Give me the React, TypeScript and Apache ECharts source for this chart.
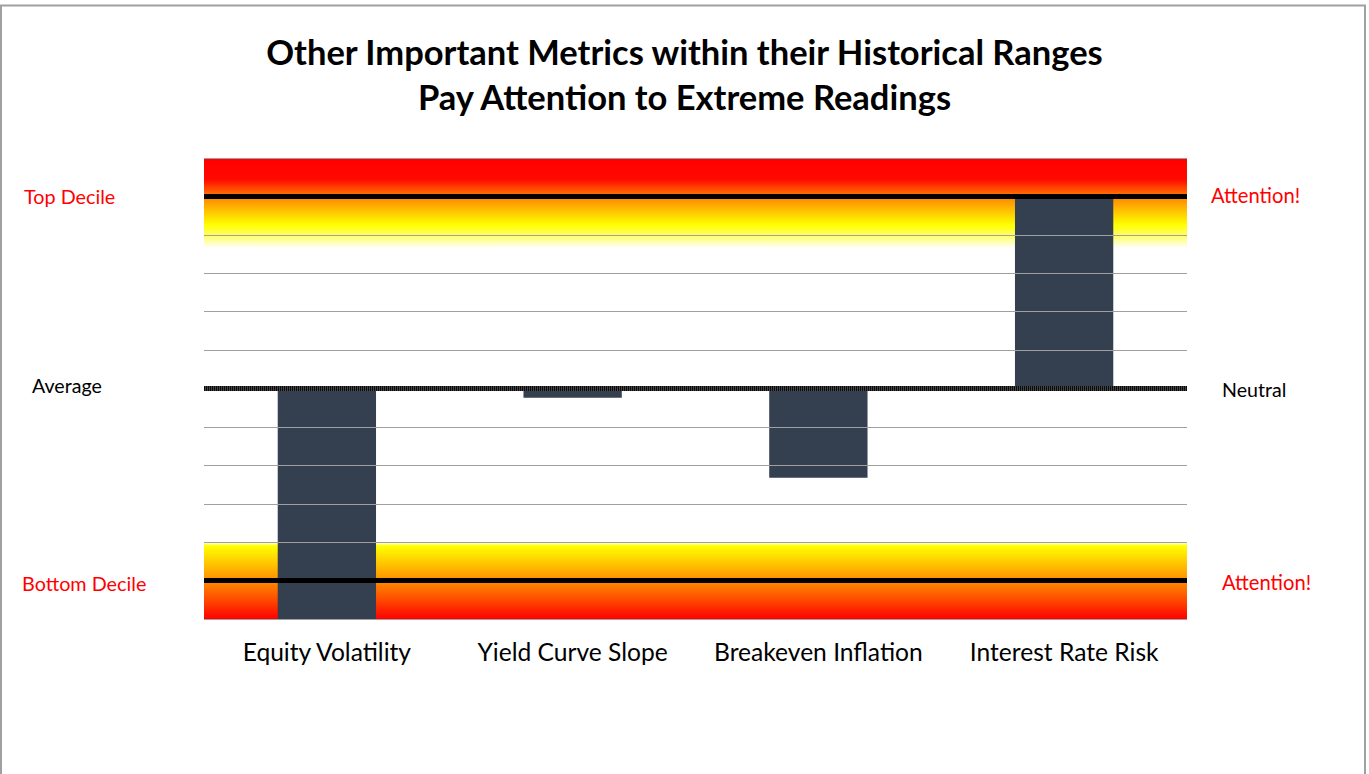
import React, { useEffect, useRef } from "react";
import * as echarts from "echarts";

const categories = ["Equity Volatility", "Yield Curve Slope", "Breakeven Inflation", "Interest Rate Risk"];
const values = [-6, -0.24, -2.32, 4.93];
const gridValues = [-6, -5, -4, -3, -2, -1, 1, 2, 3, 4, 5, 6];
const topDecile = 5;
const bottomDecile = -5;
const neutral = 0;
const topBand = [6, 3.65];
const bottomBand = [-4, -6];

const FONT = "Lato";

export default function App() {
  const ref = useRef<HTMLDivElement>(null);
  useEffect(() => {
    if (!ref.current) return;
    const chart = echarts.init(ref.current, undefined, { renderer: "svg" });
    chart.setOption({
      animation: false,
      backgroundColor: "#ffffff",
      title: {
        text: "Other Important Metrics within their Historical Ranges\nPay Attention to Extreme Readings",
        left: "center",
        top: 24,
        textStyle: { fontFamily: FONT, fontSize: 34.5, fontWeight: "bold", color: "#000", lineHeight: 45 },
      },
      grid: { left: 204, right: 182, top: 158, bottom: 155 },
      xAxis: {
        type: "category",
        data: categories,
        axisLine: { show: false },
        axisTick: { show: false },
        axisLabel: { interval: 0, hideOverlap: false, fontFamily: FONT, fontSize: 24.6, color: "#000", margin: 20 },
      },
      yAxis: {
        type: "value",
        min: -6,
        max: 6,
        interval: 1,
        axisLabel: { show: false },
        axisLine: { show: false },
        axisTick: { show: false },
        splitLine: { show: false },
      },
      graphic: [
        { type: "rect", shape: { x: 1, y: 5.5, width: 1364, height: 800 }, style: { fill: "none", stroke: "#a0a0a0", lineWidth: 2 }, silent: true },
        { type: "text", left: 24, top: 186, style: { text: "Top Decile", fill: "#ff0000", fontFamily: FONT, fontSize: 19.8 } },
        { type: "text", left: 32, top: 375, style: { text: "Average", fill: "#000", fontFamily: FONT, fontSize: 19.6 } },
        { type: "text", left: 22, top: 573, style: { text: "Bottom Decile", fill: "#ff0000", fontFamily: FONT, fontSize: 19.8 } },
        { type: "text", left: 1211, top: 185, style: { text: "Attention!", fill: "#ff0000", fontFamily: FONT, fontSize: 20.2 } },
        { type: "text", left: 1222, top: 379, style: { text: "Neutral", fill: "#000", fontFamily: FONT, fontSize: 19.6 } },
        { type: "text", left: 1222, top: 572, style: { text: "Attention!", fill: "#ff0000", fontFamily: FONT, fontSize: 20.2 } },
      ],
      series: [
        {
          type: "line",
          data: [],
          z: 1,
          silent: true,
          markArea: {
            silent: true,
            data: [
              [
                {
                  yAxis: topBand[0],
                  itemStyle: {
                    color: new echarts.graphic.LinearGradient(0, 0, 0, 1, [
                      { offset: 0, color: "#ff0000" },
                      { offset: 0.24, color: "#ff0a00" },
                      { offset: 0.45, color: "#ff8c00" },
                      { offset: 0.74, color: "#ffff00" },
                      { offset: 0.87, color: "#ffff70" },
                      { offset: 1, color: "#ffffff" },
                    ]),
                  },
                },
                { yAxis: topBand[1] },
              ],
              [
                {
                  yAxis: bottomBand[0],
                  itemStyle: {
                    color: new echarts.graphic.LinearGradient(0, 0, 0, 1, [
                      { offset: 0, color: "#ffffff" },
                      { offset: 0.05, color: "#ffff00" },
                      { offset: 0.45, color: "#ff9a00" },
                      { offset: 0.75, color: "#ff4a00" },
                      { offset: 1, color: "#ff0000" },
                    ]),
                  },
                },
                { yAxis: bottomBand[1] },
              ],
            ],
          },
          markLine: {
            silent: true,
            symbol: "none",
            label: { show: false },
            lineStyle: { color: "#a0a0a0", width: 1, type: "solid" },
            data: gridValues.map((v) => ({ yAxis: v })),
          },
        },
        {
          type: "bar",
          data: values,
          barWidth: "40%",
          z: 2,
          itemStyle: { color: "#343f50" },
        },
        {
          type: "line",
          data: [],
          z: 3,
          silent: true,
          markLine: {
            silent: true,
            symbol: "none",
            label: { show: false },
            data: [
              { yAxis: topDecile, lineStyle: { color: "#000", width: 5, type: "solid" } },
              { yAxis: bottomDecile, lineStyle: { color: "#000", width: 5, type: "solid" } },
              { yAxis: neutral, lineStyle: { color: "#444", width: 5, type: "solid" } },
            ],
          },
        },
        {
          type: "line",
          data: [],
          z: 4,
          silent: true,
          markLine: {
            silent: true,
            symbol: "none",
            label: { show: false },
            data: [{ yAxis: neutral, lineStyle: { color: "#0a0a0a", width: 5, type: [1, 1] } }],
          },
        },
      ],
    });
    return () => chart.dispose();
  }, []);
  return <div ref={ref} style={{ position: "fixed", left: 0, top: 0, width: 1369, height: 774 }} />;
}
